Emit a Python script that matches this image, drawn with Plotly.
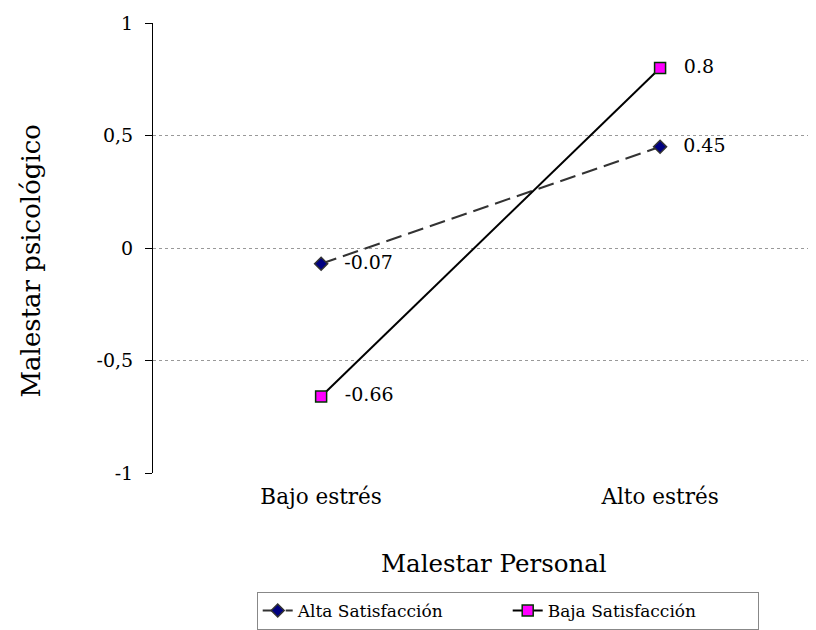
import plotly.graph_objects as go

categories = ["Bajo estrés", "Alto estrés"]
alta = [-0.07, 0.45]
baja = [-0.66, 0.8]
alta_labels = ["-0.07", "0.45"]
baja_labels = ["-0.66", "0.8"]
y_ticks = [-1, -0.5, 0, 0.5, 1]
y_ticklabels = ["-1", "-0,5", "0", "0,5", "1"]
x_title = "Malestar Personal"
y_title = "Malestar psicológico"

FONT = "DejaVu Serif"
PAD = "  \u2009"
xpos = list(range(len(categories)))

fig = go.Figure()
fig.add_trace(go.Scatter(
    x=xpos, y=alta, name="Alta Satisfacción", mode="lines+markers+text",
    line=dict(color="#333333", width=2, dash="16px,7px"),
    marker=dict(symbol="diamond", size=10, color="#000080", line=dict(color="#333333", width=1.5)),
    text=[PAD + t for t in alta_labels], textposition="middle right",
    textfont=dict(family=FONT, size=19, color="black"),
))
fig.add_trace(go.Scatter(
    x=xpos, y=baja, name="Baja Satisfacción", mode="lines+markers+text",
    line=dict(color="black", width=2),
    marker=dict(symbol="square", size=11, color="#FF00FF", line=dict(color="#003300", width=1.5)),
    text=[PAD + t for t in baja_labels], textposition="middle right",
    textfont=dict(family=FONT, size=19, color="black"),
))

# page body has an 8px margin, so the figure is 808x622 and offset by 8px
fig.update_layout(
    width=808, height=622,
    margin=dict(l=145, r=0, t=15, b=156),
    paper_bgcolor="white", plot_bgcolor="white",
    font=dict(family=FONT, size=19, color="black"),
    showlegend=True,
    legend=dict(orientation="h", x=0.535, y=-0.264, xanchor="center", yanchor="top",
                bordercolor="#888888", borderwidth=1, font=dict(size=17),
                entrywidth=205, entrywidthmode="pixels", tracegroupgap=0),
    annotations=[
        dict(text=x_title, xref="paper", yref="paper", x=0.514, y=-0.2018,
             xanchor="center", yanchor="middle", showarrow=False,
             font=dict(size=24.5)),
        dict(text=y_title, xref="paper", yref="paper", x=-0.1855, y=0.47,
             xanchor="center", yanchor="middle", showarrow=False, textangle=-90,
             font=dict(size=26)),
    ],
)
fig.update_xaxes(
    range=[-0.496, 1.46], tickvals=xpos, ticktext=categories,
    showgrid=False, zeroline=False, showline=False, ticks="",
    automargin=False, ticklabelstandoff=8,
    tickfont=dict(size=21.5),
)
fig.update_yaxes(
    range=[-1, 1], tickvals=y_ticks, ticktext=y_ticklabels,
    showgrid=True, gridcolor="#999999", griddash="dot", gridwidth=1,
    zeroline=False, showline=True, linecolor="black", linewidth=1,
    ticks="outside", ticklen=7, tickcolor="black", automargin=False,
    ticklabelstandoff=8,
    tickfont=dict(size=19),
)
fig.write_html("out.html")
